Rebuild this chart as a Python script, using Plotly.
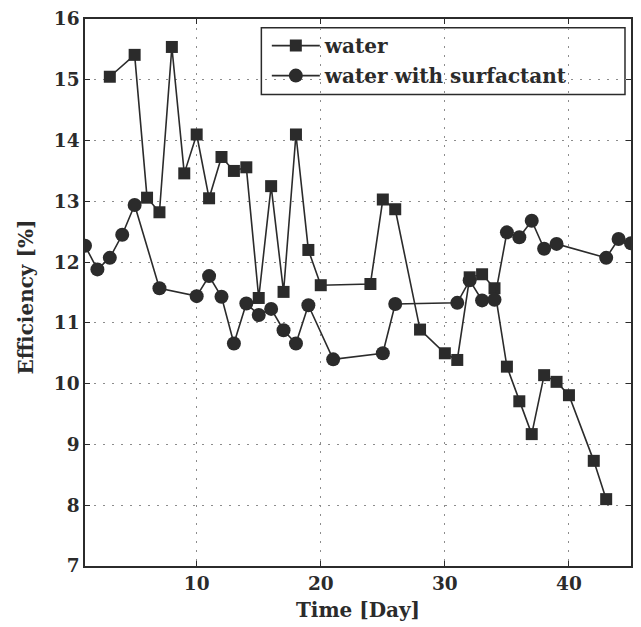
import plotly.graph_objects as go

water_day = [3, 5, 6, 7, 8, 9, 10, 11, 12, 13, 14, 15, 16, 17, 18, 19, 20, 24, 25, 26,
             28, 30, 31, 32, 33, 34, 35, 36, 37, 38, 39, 40, 42, 43]
water_eff = [15.05, 15.41, 13.06, 12.82, 15.54, 13.46, 14.10, 13.05, 13.73, 13.50, 13.56,
             11.41, 13.25, 11.51, 14.10, 12.20, 11.62, 11.64, 13.03, 12.87,
             10.89, 10.50, 10.39, 11.75, 11.80, 11.57, 10.28, 9.71, 9.17, 10.14, 10.03,
             9.81, 8.73, 8.10]

surf_day = [1, 2, 3, 4, 5, 7, 10, 11, 12, 13, 14, 15, 16, 17, 18, 19, 21, 25, 26, 31,
            32, 33, 34, 35, 36, 37, 38, 39, 43, 44, 45]
surf_eff = [12.27, 11.88, 12.07, 12.45, 12.94, 11.57, 11.44, 11.77, 11.43, 10.66, 11.32,
            11.13, 11.23, 10.88, 10.66, 11.29, 10.40, 10.50, 11.31, 11.33,
            11.70, 11.37, 11.38, 12.49, 12.41, 12.68, 12.22, 12.30, 12.07, 12.38, 12.31]

x_ticks = [10, 20, 30, 40]
y_ticks = [7, 8, 9, 10, 11, 12, 13, 14, 15, 16]

INK = "#2b2b2b"
FONT = "DejaVu Serif"

fig = go.Figure()
fig.add_trace(go.Scatter(
    x=water_day, y=water_eff, mode="lines+markers", name="<b>water</b>",
    legendgroup="a",
    line=dict(color=INK, width=1.6),
    marker=dict(symbol="square", size=12, color=INK),
))
fig.add_trace(go.Scatter(
    x=surf_day, y=surf_eff, mode="lines+markers", name="<b>water with surfactant</b>",
    legendgroup="b",
    line=dict(color=INK, width=1.6),
    marker=dict(symbol="circle", size=14, color=INK),
))

axis_common = dict(
    showline=True, linecolor=INK, linewidth=1.5, mirror="ticks",
    ticks="inside", ticklen=5, tickcolor=INK, tickwidth=1,
    showgrid=True, gridcolor="#8c8c8c", griddash="2px,7px", gridwidth=1,
    zeroline=False,
    tickfont=dict(family=FONT, size=18.5, color=INK, weight="bold"),
)

fig.update_xaxes(range=[1, 45], tickvals=x_ticks, title_text="Time [Day]",
                 title_font=dict(family=FONT, size=20, color=INK, weight="bold"),
                 title_standoff=10, **axis_common)
fig.update_yaxes(range=[7, 16], tickvals=y_ticks, **axis_common)

# y-axis title
fig.add_annotation(text="Efficiency [%]", xref="paper", yref="paper",
                   x=-0.1077, y=0.491, xanchor="center", yanchor="middle",
                   textangle=-90, showarrow=False,
                   font=dict(family=FONT, size=20, color=INK, weight="bold"))

# legend frame
fig.add_shape(type="rect", xref="paper", yref="paper",
              x0=0.323, x1=0.989, y0=0.862, y1=0.984,
              line=dict(color=INK, width=1.5), fillcolor="white", layer="below")

fig.update_layout(
    width=641, height=627,
    margin=dict(l=85, r=8, t=17, b=61),
    plot_bgcolor="white", paper_bgcolor="white",
    font=dict(family=FONT, color=INK),
    legend=dict(
        x=0.333, y=0.987, xanchor="left", yanchor="top",
        bgcolor="rgba(0,0,0,0)", borderwidth=0,
        font=dict(family=FONT, size=20, color=INK),
        itemwidth=48, tracegroupgap=1,
    ),
    showlegend=True,
)

fig.write_html("out.html")
